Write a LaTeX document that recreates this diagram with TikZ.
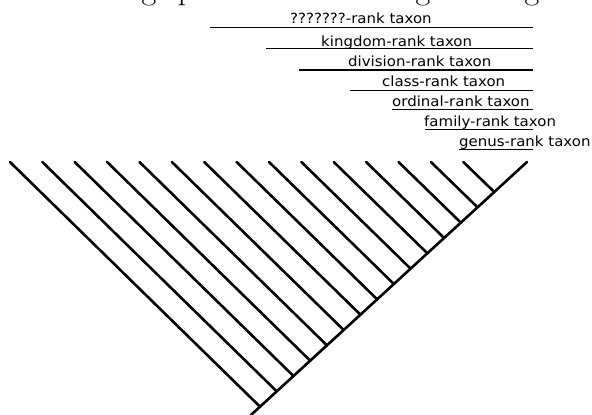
\documentclass[tikz,border=0pt]{standalone}
\usepackage{fontspec}
\newfontfamily\labelfont[FakeStretch=1.07]{DejaVu Sans}
\usetikzlibrary{calc}
\begin{document}
\begin{tikzpicture}[x=1pt,y=-1pt,
  branch/.style={line width=2.6pt,line cap=round},
  rankline/.style={line width=1.1pt},
  ranklabel/.style={font=\labelfont\fontsize{14}{16}\selectfont,anchor=base west,inner sep=0pt},
  titlefrag/.style={font=\fontsize{32}{36}\selectfont,anchor=base,inner sep=0pt}]
\useasboundingbox (0,0) rectangle (592,415);
% cut-off title descenders
\begin{scope}
\clip (0,0) rectangle (592,415);
\node[titlefrag] (tg1) at (149,-1) {g};
\node[titlefrag] (tp1) at (186,-1) {p};
\node[titlefrag] (tg2) at (423,-1) {g};
\node[titlefrag] (tg3) at (532,-1) {g};
\end{scope}
% rank labels and their lines
\foreach \i/\xs/\yl/\xt/\yb/\txt in {
  1/210/27.2/290/23.8/{???????-rank taxon},
  2/266/48.7/321/46.3/{kingdom-rank taxon},
  3/299/70/348/66/{division-rank taxon},
  4/350/90.3/382/86/{class-rank taxon},
  5/392/109.2/392/106.5/{ordinal-rank taxon},
  6/425/129.2/424/126.3/{family-rank taxon},
  7/459/149.2/459/146.3/{genus-rank taxon}}{
  \node[ranklabel] (lab\i) at (\xt,\yb) {\txt};
  \coordinate (ls\i) at (\xs,\yl);
  \coordinate (le\i) at (533,\yl);
  \draw[rankline] (ls\i) -- (le\i);
}
% cladogram
\coordinate (R) at (527,162);
\coordinate (J14) at (260,406.7);
\coordinate (B) at ($(R)!1.034!(J14)$);
\draw[branch] (R) -- (B);
\foreach \k in {0,...,14}{
  \pgfmathsetmacro{\fr}{0.1225+\k*0.8775/14}
  \coordinate (J\k) at ($(R)!\fr!(J14)$);
  \pgfmathsetmacro{\tx}{463.3-32.38*\k}
  \coordinate (T\k) at (\tx,162);
  \draw[branch] (T\k) -- (J\k);
}
\end{tikzpicture}
\end{document}
